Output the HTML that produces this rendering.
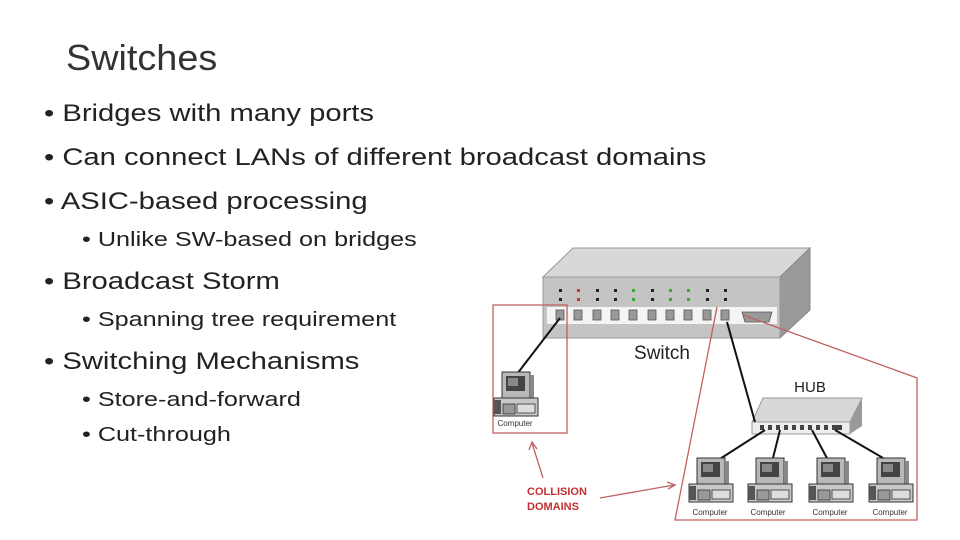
<!DOCTYPE html>
<html><head><meta charset="utf-8"><style>
body{margin:0;width:960px;height:540px;background:#fff;overflow:hidden;position:relative;font-family:"Liberation Sans",sans-serif;color:#222}
.t{position:absolute;white-space:nowrap;line-height:1;transform-origin:0 0}
.b{font-size:24px;transform:scaleX(1.217)}
.s{font-size:20px;transform:scaleX(1.26)}
</style></head><body>
<div class="t" style="left:66px;top:40px;font-size:36px;color:#333;transform:scaleX(1.05)">Switches</div>
<div class="t b" style="left:44px;top:102px">• Bridges with many ports</div>
<div class="t b" style="left:44px;top:146px">• Can connect LANs of different broadcast domains</div>
<div class="t b" style="left:44px;top:190px">• ASIC-based processing</div>
<div class="t s" style="left:82px;top:230px">• Unlike SW-based on bridges</div>
<div class="t b" style="left:44px;top:270px">• Broadcast Storm</div>
<div class="t s" style="left:82px;top:310px">• Spanning tree requirement</div>
<div class="t b" style="left:44px;top:350px">• Switching Mechanisms</div>
<div class="t s" style="left:82px;top:390px">• Store-and-forward</div>
<div class="t s" style="left:82px;top:425px">• Cut-through</div>

<svg width="960" height="540" style="position:absolute;left:0;top:0" font-family="Liberation Sans,sans-serif">
<defs>
<g id="pc">
<rect x="9" y="0" width="28" height="26" fill="#b8b8b8" stroke="#333" stroke-width="1"/>
<rect x="13" y="4" width="19" height="15" fill="#444"/>
<rect x="15" y="6" width="10" height="8" fill="#888"/>
<rect x="37" y="3" width="4" height="23" fill="#888"/>
<rect x="1" y="26" width="44" height="18" fill="#c8c8c8" stroke="#333" stroke-width="1"/>
<rect x="1" y="28" width="7" height="14" fill="#555"/>
<rect x="10" y="32" width="12" height="10" fill="#999" stroke="#333" stroke-width=".8"/>
<rect x="24" y="32" width="18" height="9" fill="#ddd" stroke="#333" stroke-width=".8"/>
</g>
</defs>
<polygon points="543,277 573,248 810,248 780,277" fill="#d8d8d8" stroke="#999"/>
<polygon points="780,277 810,248 810,310 780,338" fill="#999" stroke="#888"/>
<rect x="543" y="277" width="237" height="61" fill="#c4c4c4" stroke="#999"/>
<rect x="547" y="307" width="230" height="17" fill="#f4f4f4"/>
<g fill="#222">
<rect x="559" y="289" width="3" height="3"/><rect x="559" y="298" width="3" height="3"/>
<rect x="577" y="289" width="3" height="3" fill="#c33"/><rect x="577" y="298" width="3" height="3" fill="#c33"/>
<rect x="596" y="289" width="3" height="3"/><rect x="596" y="298" width="3" height="3"/>
<rect x="614" y="289" width="3" height="3"/><rect x="614" y="298" width="3" height="3"/>
<rect x="632" y="289" width="3" height="3" fill="#3a3"/><rect x="632" y="298" width="3" height="3" fill="#3a3"/>
<rect x="651" y="289" width="3" height="3"/><rect x="651" y="298" width="3" height="3"/>
<rect x="669" y="289" width="3" height="3" fill="#3a3"/><rect x="669" y="298" width="3" height="3" fill="#3a3"/>
<rect x="687" y="289" width="3" height="3" fill="#3a3"/><rect x="687" y="298" width="3" height="3" fill="#3a3"/>
<rect x="706" y="289" width="3" height="3"/><rect x="706" y="298" width="3" height="3"/>
<rect x="724" y="289" width="3" height="3"/><rect x="724" y="298" width="3" height="3"/>
</g>
<g fill="#999" stroke="#555" stroke-width=".8">
<rect x="556" y="310" width="8" height="10"/><rect x="574" y="310" width="8" height="10"/>
<rect x="593" y="310" width="8" height="10"/><rect x="611" y="310" width="8" height="10"/>
<rect x="629" y="310" width="8" height="10"/><rect x="648" y="310" width="8" height="10"/>
<rect x="666" y="310" width="8" height="10"/><rect x="684" y="310" width="8" height="10"/>
<rect x="703" y="310" width="8" height="10"/><rect x="721" y="310" width="8" height="10"/>
<polygon points="742,312 772,312 769,322 745,322"/>
</g>
<text x="662" y="359" font-size="19" text-anchor="middle" fill="#222">Switch</text>
<text x="810" y="392" font-size="15" text-anchor="middle" fill="#222">HUB</text>
<polygon points="752,422 763,398 862,398 850,422" fill="#d8d8d8" stroke="#999"/>
<polygon points="850,422 862,398 862,426 850,434" fill="#999"/>
<rect x="752" y="422" width="98" height="12" fill="#eee" stroke="#999"/>
<g fill="#444"><rect x="760" y="425" width="4" height="5"/><rect x="768" y="425" width="4" height="5"/><rect x="776" y="425" width="4" height="5"/><rect x="784" y="425" width="4" height="5"/><rect x="792" y="425" width="4" height="5"/><rect x="800" y="425" width="4" height="5"/><rect x="808" y="425" width="4" height="5"/><rect x="816" y="425" width="4" height="5"/><rect x="824" y="425" width="4" height="5"/><rect x="832" y="425" width="10" height="5"/></g>
<g stroke="#111" stroke-width="2" fill="none">
<line x1="560" y1="318" x2="517" y2="374"/>
<line x1="727" y1="322" x2="755" y2="422"/>
<line x1="765" y1="430" x2="712" y2="464"/>
<line x1="780" y1="430" x2="772" y2="462"/>
<line x1="812" y1="430" x2="829" y2="462"/>
<line x1="835" y1="430" x2="890" y2="462"/>
</g>
<use href="#pc" x="493" y="372"/>
<use href="#pc" x="688" y="458"/>
<use href="#pc" x="747" y="458"/>
<use href="#pc" x="808" y="458"/>
<use href="#pc" x="868" y="458"/>
<g font-size="8" fill="#333" text-anchor="middle">
<text x="515" y="426">Computer</text>
<text x="710" y="515">Computer</text>
<text x="768" y="515">Computer</text>
<text x="830" y="515">Computer</text>
<text x="890" y="515">Computer</text>
</g>
<g stroke="#c06060" stroke-width="1.3" fill="none">
<rect x="493" y="305" width="74" height="128"/>
<polyline points="717,307 675,520 917,520 917,378 743,315"/>
<line x1="543" y1="478" x2="532" y2="443"/>
<polyline points="529,450 532,442 537,449"/>
<line x1="600" y1="498" x2="674" y2="485"/>
<polyline points="667,482 675,485 668,489"/>
</g>
<g font-size="11" font-weight="bold" fill="#c03030">
<text x="527" y="495">COLLISION</text>
<text x="527" y="510">DOMAINS</text>
</g>
</svg>
</body></html>
